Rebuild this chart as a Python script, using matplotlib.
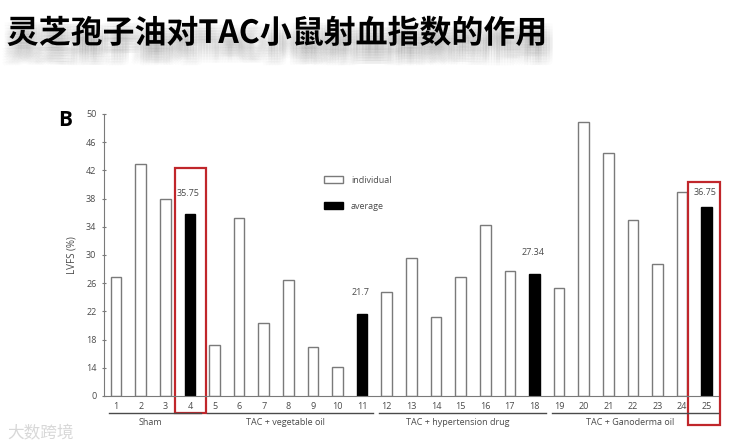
import numpy as np
import matplotlib
matplotlib.use("Agg")
import matplotlib.pyplot as plt
import matplotlib.patheffects as pe
from matplotlib.patches import Rectangle, Patch
from matplotlib.lines import Line2D

plt.rcParams['font.family'] = ['Open Sans', 'Noto Sans CJK SC', 'DejaVu Sans']

# LVFS values per mouse, last one of each group is the group average
groups = ['Sham', 'TAC + vegetable oil', 'TAC + hypertension drug', 'TAC + Ganoderma oil']
sham = [26.9, 42.9, 37.9]
veg_oil = [17.3, 35.3, 20.3, 26.5, 16.9, 14.1]
hyper_drug = [24.7, 29.6, 21.2, 26.9, 34.2, 27.8]
gano_oil = [25.3, 48.8, 44.5, 34.9, 28.7, 39.0]
averages = [35.75, 21.7, 27.34, 36.75]
avg_labels = ['35.75', '21.7', '27.34', '36.75']
yticks = [0, 14, 18, 22, 26, 30, 34, 38, 42, 46, 50]

# broken y axis: 0..14 squeezed into one tick step
def fwd(v):
    v = np.asarray(v, dtype=float)
    return np.where(v >= 14, v, 10 + v * 4 / 14)

def inv(u):
    u = np.asarray(u, dtype=float)
    return np.where(u >= 14, u, (u - 10) * 14 / 4)

fig = plt.figure(figsize=(7.46, 4.47), dpi=100)
ax = fig.add_axes([0.1394, 0.1141, 0.8231, 0.6309])
ax.set_yscale('function', functions=(fwd, inv))

edge = '#7a7a7a'
txt = '#4a4a4a'
pos = 1
spans = []
avg_pos = []
for vals, avg in zip([sham, veg_oil, hyper_drug, gano_oil], averages):
    xs = np.arange(pos, pos + len(vals))
    ax.bar(xs, vals, width=0.43, color='white', edgecolor=edge, linewidth=1.0)
    xa = pos + len(vals)
    ax.bar([xa], [avg], width=0.43, color='black', edgecolor='black', linewidth=1.0)
    spans.append((pos, xa))
    avg_pos.append(xa)
    pos = xa + 1

ax.set_xlim(0.51, 25.46)
ax.set_ylim(0, 50)
ax.set_yticks(yticks)
ax.set_yticklabels([str(t) for t in yticks])
ax.set_xticks(np.arange(1, pos))
ax.set_xticklabels([str(i) for i in range(1, pos)])
ax.tick_params(axis='x', length=0, pad=4, labelsize=6.5, labelcolor=txt)
ax.tick_params(axis='y', length=3, direction='inout', width=0.8, color=edge,
               pad=4, labelsize=6.5, labelcolor=txt)
for s in ['top', 'right']:
    ax.spines[s].set_visible(False)
ax.spines['left'].set_color(edge)
ax.spines['bottom'].set_color(edge)
ax.set_ylabel('LVFS (%)', fontsize=7, color=txt, labelpad=6)

# average value labels (last one sits a bit lower, inside the red box)
for i, (xa, avg, lab) in enumerate(zip(avg_pos, averages, avg_labels)):
    dy = 11 if i == len(avg_pos) - 1 else 15
    ax.annotate(lab, (xa, avg), xytext=(-1, dy), textcoords='offset points',
                ha='center', va='center', fontsize=6.5, color=txt)

# group underlines and names
trans = ax.get_xaxis_transform()
for (a, b), name in zip(spans, groups):
    ax.add_line(Line2D([a - 0.3, b + 0.45], [-0.06, -0.06], transform=trans,
                       color=txt, lw=1.0, clip_on=False))
    ax.text((a + b) / 2 - 0.1, -0.095, name, transform=trans, ha='center', va='center',
            fontsize=6.5, color=txt)

# red highlight boxes
for xa, top, bot in [(avg_pos[0], 0.809, -0.06), (avg_pos[3], 0.759, -0.103)]:
    x0 = xa - 0.62 if xa < 10 else xa - 0.77
    w = 1.27 if xa < 10 else 1.31
    ax.add_patch(Rectangle((x0, bot), w, top - bot, transform=trans, fill=False,
                           edgecolor='#c0262b', lw=1.6, clip_on=False))

handles = [Patch(facecolor='white', edgecolor=edge, label='individual'),
           Patch(facecolor='black', edgecolor='black', label='average')]
ax.legend(handles=handles, loc='upper left', bbox_to_anchor=(0.345, 0.81), frameon=False,
          fontsize=6.5, handlelength=2.1, handleheight=0.9, labelspacing=1.9,
          handletextpad=0.9, labelcolor=txt)

fig.text(0.087, 0.730, 'B', fontsize=15, fontweight='bold', ha='center', va='center',
         family=['Open Sans', 'DejaVu Sans'])

# soft blurred shadow under the title: many faint offset copies
shadow = []
for dx in range(-4, 7, 2):
    for dy in range(-14, -3, 2):
        shadow.append(pe.SimplePatchShadow(offset=(dx, dy), shadow_rgbFace='#909090', alpha=0.025))
shadow.append(pe.Normal())
fig.text(0.009, 0.924, '灵芝孢子油对TAC小鼠射血指数的作用', fontsize=23, fontweight='bold',
         ha='left', va='center', family=['Noto Sans CJK SC', 'DejaVu Sans'],
         path_effects=shadow)

fig.text(0.01, 0.03, '大数跨境', fontsize=12, color='#d8d8d8', ha='left', va='center',
         family=['Noto Sans CJK SC', 'DejaVu Sans'])

fig.savefig('out.png', dpi=100)
